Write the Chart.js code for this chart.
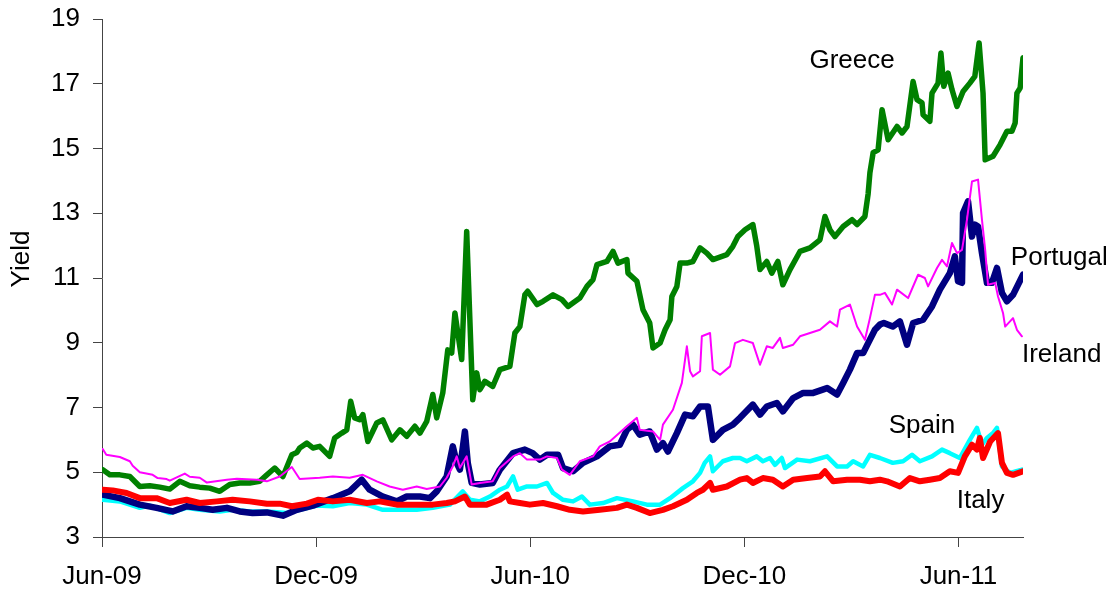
<!DOCTYPE html>
<html>
<head>
<meta charset="utf-8">
<script src="https://cdn.jsdelivr.net/npm/chart.js@4.4.1/dist/chart.umd.min.js"></script>
<style>
  html, body { margin:0; padding:0; background:#fff; }
  #wrap { width:1110px; height:590px; }
</style>
</head>
<body>
<div id="wrap"><canvas id="yieldChart" width="1110" height="590"></canvas></div>
<script>
// x = months since Jun-09, y = 10y yield (%)
const tickLabels = ['Jun-09', 'Dec-09', 'Jun-10', 'Dec-10', 'Jun-11'];
const yTicks = [3, 5, 7, 9, 11, 13, 15, 17, 19];

const greece = [[0.02,5.08],[0.22,4.92],[0.50,4.92],[0.78,4.87],[1.06,4.56],[1.34,4.58],[1.62,4.54],[1.90,4.48],[2.18,4.72],[2.46,4.58],[2.74,4.54],[3.02,4.51],[3.30,4.41],[3.58,4.62],[3.86,4.67],[4.14,4.67],[4.42,4.72],[4.62,4.92],[4.84,5.13],[5.07,4.87],[5.32,5.54],[5.46,5.61],[5.54,5.75],[5.74,5.90],[5.91,5.75],[6.10,5.80],[6.38,5.49],[6.52,6.06],[6.72,6.21],[6.86,6.31],[6.97,7.19],[7.08,6.68],[7.22,6.62],[7.31,6.78],[7.45,5.95],[7.70,6.52],[7.87,6.62],[8.12,6.00],[8.35,6.31],[8.54,6.11],[8.77,6.42],[8.91,6.21],[9.10,6.57],[9.27,7.40],[9.38,6.68],[9.55,7.45],[9.69,8.78],[9.80,8.68],[9.89,9.92],[10.08,8.48],[10.22,12.44],[10.39,7.24],[10.50,8.07],[10.59,7.55],[10.73,7.81],[10.95,7.65],[11.15,8.17],[11.43,8.27],[11.57,9.30],[11.71,9.50],[11.85,10.48],[11.93,10.59],[12.19,10.18],[12.36,10.28],[12.64,10.48],[12.89,10.33],[13.06,10.12],[13.39,10.38],[13.59,10.74],[13.76,10.95],[13.87,11.41],[14.15,11.51],[14.32,11.82],[14.46,11.46],[14.71,11.57],[14.74,11.15],[14.99,10.90],[15.16,10.02],[15.35,9.61],[15.44,8.84],[15.64,8.99],[15.78,9.40],[15.92,9.71],[15.97,10.43],[16.11,10.74],[16.20,11.46],[16.39,11.46],[16.56,11.51],[16.76,11.93],[16.95,11.77],[17.12,11.57],[17.51,11.72],[17.68,11.98],[17.82,12.28],[18.02,12.49],[18.24,12.65],[18.35,11.98],[18.44,11.26],[18.63,11.51],[18.77,11.15],[18.94,11.51],[19.08,10.79],[19.28,11.26],[19.56,11.82],[19.84,11.93],[20.12,12.18],[20.26,12.90],[20.40,12.49],[20.54,12.28],[20.77,12.59],[21.02,12.80],[21.16,12.65],[21.38,12.90],[21.47,13.60],[21.52,14.25],[21.61,14.87],[21.75,14.96],[21.86,16.20],[22.03,15.27],[22.28,15.68],[22.42,15.48],[22.56,15.68],[22.73,17.07],[22.84,16.51],[22.98,16.41],[23.01,16.04],[23.20,15.84],[23.26,16.71],[23.43,17.02],[23.51,17.95],[23.59,16.92],[23.71,17.33],[23.82,16.82],[23.96,16.30],[24.13,16.76],[24.32,17.02],[24.46,17.23],[24.58,18.26],[24.69,16.71],[24.75,14.65],[24.97,14.76],[25.17,15.12],[25.36,15.53],[25.50,15.53],[25.59,15.79],[25.64,16.71],[25.73,16.87],[25.81,17.80]];

const portugal = [[0.02,4.31],[0.50,4.20],[1.06,4.00],[1.53,3.90],[1.98,3.79],[2.37,3.95],[2.74,3.90],[3.10,3.84],[3.50,3.90],[3.86,3.79],[4.22,3.74],[4.62,3.76],[5.07,3.66],[5.46,3.84],[5.91,3.97],[6.47,4.20],[6.94,4.41],[7.28,4.77],[7.50,4.46],[7.87,4.25],[8.26,4.10],[8.54,4.25],[8.91,4.25],[9.19,4.20],[9.38,4.41],[9.66,4.87],[9.83,5.80],[9.94,5.29],[10.03,5.08],[10.17,6.26],[10.25,5.29],[10.36,4.67],[10.59,4.62],[10.95,4.67],[11.15,5.08],[11.52,5.59],[11.85,5.70],[12.07,5.59],[12.27,5.39],[12.47,5.54],[12.78,5.54],[12.92,5.13],[13.20,5.03],[13.48,5.29],[13.87,5.49],[14.23,5.80],[14.51,5.85],[14.71,6.31],[14.88,6.47],[15.07,6.16],[15.35,6.26],[15.55,5.70],[15.72,5.90],[15.86,5.64],[16.11,6.21],[16.34,6.78],[16.56,6.73],[16.76,7.03],[16.98,7.03],[17.12,6.00],[17.40,6.31],[17.68,6.47],[17.88,6.68],[18.24,7.09],[18.44,6.78],[18.63,7.03],[18.91,7.14],[19.08,6.88],[19.37,7.29],[19.65,7.45],[19.93,7.45],[20.32,7.60],[20.60,7.40],[20.77,7.76],[20.96,8.17],[21.16,8.68],[21.33,8.68],[21.47,8.99],[21.66,9.40],[21.80,9.56],[21.91,9.61],[22.16,9.50],[22.36,9.66],[22.56,8.94],[22.73,9.61],[23.01,9.71],[23.26,10.12],[23.48,10.64],[23.76,11.15],[23.90,11.67],[23.99,10.90],[24.10,10.85],[24.13,13.01],[24.27,13.37],[24.38,12.28],[24.46,12.65],[24.55,12.59],[24.66,11.77],[24.80,10.85],[24.94,10.85],[25.08,11.31],[25.22,10.54],[25.36,10.28],[25.53,10.48],[25.81,11.10]];

const ireland = [[0.02,5.72],[0.12,5.54],[0.50,5.47],[0.78,5.34],[0.86,5.20],[1.06,5.00],[1.42,4.92],[1.56,4.82],[1.81,4.79],[1.90,4.74],[2.32,4.96],[2.46,4.86],[2.74,4.83],[2.94,4.68],[3.50,4.77],[3.78,4.80],[4.34,4.77],[4.62,4.72],[4.98,4.87],[5.32,5.16],[5.54,4.79],[6.10,4.83],[6.47,4.87],[6.94,4.83],[7.31,4.92],[7.70,4.72],[8.06,4.56],[8.43,4.46],[8.82,4.56],[9.10,4.48],[9.47,4.56],[9.66,4.83],[9.83,5.18],[9.94,5.49],[10.03,5.14],[10.22,5.49],[10.36,4.62],[10.59,4.67],[10.95,4.72],[11.15,5.13],[11.52,5.49],[11.71,5.59],[11.91,5.39],[12.27,5.39],[12.47,5.49],[12.75,5.44],[12.89,5.08],[13.11,4.92],[13.39,5.34],[13.76,5.49],[13.95,5.80],[14.23,5.95],[14.71,6.42],[14.99,6.68],[15.07,6.31],[15.44,6.26],[15.64,6.00],[15.72,6.47],[16.00,6.93],[16.25,7.76],[16.39,8.89],[16.48,8.12],[16.56,7.96],[16.76,8.12],[16.81,9.20],[17.04,9.30],[17.12,8.17],[17.32,8.01],[17.60,8.27],[17.74,8.99],[17.96,9.09],[18.24,8.99],[18.44,8.32],[18.63,8.89],[18.80,8.84],[19.00,9.15],[19.08,8.84],[19.37,8.94],[19.56,9.20],[19.84,9.30],[20.12,9.40],[20.40,9.66],[20.60,9.50],[20.68,10.02],[20.96,10.18],[21.16,9.50],[21.38,9.09],[21.52,9.76],[21.66,10.48],[21.80,10.48],[21.94,10.54],[22.14,10.18],[22.28,10.64],[22.59,10.38],[22.87,11.10],[23.06,11.00],[23.15,10.74],[23.40,11.31],[23.54,11.56],[23.68,11.36],[23.82,12.08],[23.96,11.77],[24.10,11.87],[24.24,12.80],[24.38,13.98],[24.55,14.04],[24.66,12.80],[24.75,11.87],[24.83,10.79],[25.03,10.85],[25.11,10.43],[25.25,9.92],[25.31,9.50],[25.53,9.76],[25.64,9.40],[25.78,9.20]];

const spain = [[0.02,4.15],[0.50,4.10],[1.06,3.90],[1.34,3.97],[1.90,3.74],[2.37,3.90],[2.74,3.84],[3.30,3.79],[3.66,3.84],[4.14,3.79],[4.62,3.79],[5.18,3.74],[5.54,3.84],[6.02,3.97],[6.47,3.95],[6.94,4.05],[7.42,4.00],[7.87,3.84],[8.35,3.84],[8.82,3.84],[9.27,3.90],[9.75,4.00],[10.11,4.41],[10.31,4.15],[10.59,4.10],[10.87,4.25],[11.15,4.46],[11.35,4.56],[11.52,4.87],[11.65,4.46],[11.91,4.56],[12.19,4.56],[12.47,4.67],[12.64,4.36],[12.92,4.15],[13.20,4.10],[13.45,4.25],[13.67,4.00],[14.04,4.05],[14.43,4.20],[14.88,4.10],[15.27,4.00],[15.64,4.00],[15.92,4.20],[16.28,4.51],[16.56,4.72],[16.76,4.98],[16.89,5.29],[17.04,5.49],[17.12,5.03],[17.40,5.34],[17.68,5.44],[17.88,5.44],[18.07,5.34],[18.35,5.49],[18.52,5.34],[18.72,5.44],[18.86,5.23],[19.05,5.44],[19.14,5.13],[19.48,5.39],[19.84,5.34],[20.32,5.49],[20.60,5.18],[20.88,5.18],[21.05,5.34],[21.33,5.18],[21.52,5.54],[21.80,5.44],[22.16,5.29],[22.45,5.34],[22.70,5.54],[22.92,5.34],[23.26,5.49],[23.54,5.70],[23.76,5.59],[24.04,5.44],[24.32,6.00],[24.52,6.37],[24.66,5.85],[24.80,6.06],[24.97,6.21],[25.08,6.37],[25.22,5.18],[25.45,4.98],[25.78,5.08]];

const italy = [[0.02,4.46],[0.30,4.44],[0.69,4.36],[1.06,4.20],[1.53,4.20],[1.90,4.05],[2.37,4.15],[2.74,4.05],[3.22,4.10],[3.66,4.15],[4.14,4.10],[4.62,4.03],[4.98,4.03],[5.32,3.95],[5.74,4.03],[6.05,4.15],[6.47,4.10],[6.94,4.15],[7.42,4.05],[7.78,4.10],[8.26,4.00],[8.71,4.00],[9.27,4.00],[9.66,4.05],[9.89,4.10],[10.17,4.25],[10.31,4.00],[10.78,4.00],[11.15,4.15],[11.35,4.31],[11.43,4.10],[11.71,4.05],[11.99,4.00],[12.36,4.05],[12.75,3.95],[13.11,3.84],[13.48,3.79],[13.95,3.84],[14.43,3.90],[14.71,4.00],[14.99,3.90],[15.35,3.74],[15.72,3.84],[16.00,3.95],[16.39,4.15],[16.67,4.36],[16.84,4.46],[17.04,4.67],[17.12,4.46],[17.51,4.56],[17.88,4.77],[18.07,4.82],[18.24,4.67],[18.52,4.82],[18.80,4.77],[19.08,4.56],[19.37,4.77],[19.76,4.82],[20.12,4.87],[20.26,5.03],[20.49,4.72],[20.88,4.77],[21.24,4.77],[21.52,4.72],[21.80,4.77],[22.00,4.72],[22.36,4.56],[22.64,4.82],[22.92,4.72],[23.20,4.77],[23.48,4.82],[23.76,5.03],[23.99,4.98],[24.18,5.49],[24.38,5.85],[24.52,5.70],[24.60,6.06],[24.69,5.44],[24.89,5.95],[25.11,6.21],[25.22,5.29],[25.36,4.98],[25.53,4.92],[25.81,5.03]];

// where each country name sits: [name, month, yield at baseline, align]
const nameLabels = [
  ['Greece', 21.02, 17.50, 'center'],
  ['Portugal', 25.47, 11.41, 'left'],
  ['Ireland', 25.78, 8.42, 'left'],
  ['Spain', 22.98, 6.21, 'center'],
  ['Italy', 24.62, 3.91, 'center']
];

const FONT = '"Liberation Sans", Arial, sans-serif';
const pts = arr => arr.map(([x, y]) => ({ x, y }));
const line = (label, data, color, width) => ({
  label, data: pts(data), borderColor: color, borderWidth: width,
  pointRadius: 0, tension: 0, borderJoinStyle: 'round', borderCapStyle: 'round', fill: false
});

const textPlugin = {
  id: 'textPlugin',
  afterDatasetsDraw(chart) {
    const { ctx, scales: { x, y } } = chart;
    ctx.save();
    ctx.font = '26px ' + FONT; ctx.fillStyle = '#000'; ctx.textBaseline = 'alphabetic';
    nameLabels.forEach(([name, m, v, align]) => {
      ctx.textAlign = align;
      ctx.fillText(name, x.getPixelForValue(m), y.getPixelForValue(v));
    });
    // axis title, sits a bit above the axis centre like the original
    ctx.translate(22, 259); ctx.rotate(-Math.PI / 2);
    ctx.textAlign = 'center'; ctx.textBaseline = 'middle';
    ctx.fillText('Yield', 0, 0);
    ctx.restore();
  }
};

// datasets listed top-most first (Chart.js draws index 0 last)
new Chart(document.getElementById('yieldChart'), {
  type: 'line',
  data: { datasets: [
    line('Ireland', ireland, '#FF00FF', 2),
    line('Italy', italy, '#FF0000', 6),
    line('Portugal', portugal, '#000080', 6.5),
    line('Spain', spain, '#00FFFF', 4.5),
    line('Greece', greece, '#008000', 5.5)
  ] },
  options: {
    responsive: false, animation: false, devicePixelRatio: 1,
    layout: { padding: { left: 0, right: 87, top: 19, bottom: 0 } },
    plugins: { legend: { display: false }, tooltip: { enabled: false } },
    scales: {
      x: {
        type: 'linear', min: 0, max: 25.81,
        afterBuildTicks: s => { s.ticks = tickLabels.map((_, i) => ({ value: i * 6 })); },
        afterFit: s => { s.height = 53; },
        ticks: { callback: v => tickLabels[Math.round(v / 6)], font: { family: FONT, size: 26 }, color: '#000', padding: 14, maxRotation: 0, autoSkip: false },
        grid: { drawOnChartArea: false, drawTicks: true, tickLength: 10, color: '#444' },
        border: { display: true, color: '#444', width: 1 }
      },
      y: {
        min: 3, max: 19,
        afterBuildTicks: s => { s.ticks = yTicks.map(v => ({ value: v })); },
        afterFit: s => { s.width = 102; s.paddingTop = 0; s.paddingBottom = 0; },
        ticks: { font: { family: FONT, size: 26 }, color: '#000', padding: 13 },
        grid: { drawOnChartArea: false, drawTicks: true, tickLength: 9, color: '#444' },
        border: { display: true, color: '#444', width: 1 }
      }
    }
  },
  plugins: [textPlugin]
});
</script>
</body>
</html>
